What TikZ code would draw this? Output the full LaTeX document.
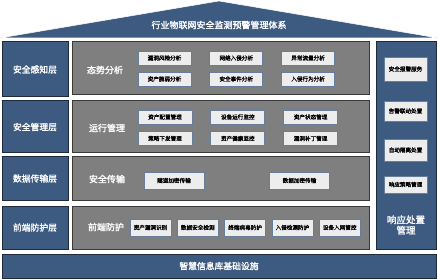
\documentclass[tikz,border=0pt]{standalone}
\usepackage{fontspec}
\setmainfont{Noto Sans CJK SC}
\newfontfamily\heavycjk[FakeBold=1.5]{Noto Sans CJK SC}
\usetikzlibrary{positioning}
\definecolor{layerblue}{HTML}{3D5A80}
\definecolor{layeredge}{HTML}{1E2B3C}
\definecolor{panelgray}{HTML}{7F7F7F}
\definecolor{paneledge}{HTML}{3A3A3A}
\definecolor{itemfill}{HTML}{EDEDED}
\definecolor{itemedge}{HTML}{667E9C}

\begin{document}
\begin{tikzpicture}[
    x=1pt, y=-1pt,
    % --- block styles ---
    layer/.style={
      draw=layeredge, fill=layerblue, line width=1pt,
      minimum width=66pt, text=white, align=center,
      font=\heavycjk\fontsize{8.8}{10}\selectfont, inner sep=1pt},
    panel/.style={
      draw=paneledge, fill=panelgray, line width=1pt,
      minimum width=297pt, inner sep=0pt},
    label/.style={
      text=white, font=\heavycjk\fontsize{9}{10}\selectfont, align=center},
    item/.style={
      draw=itemedge, fill=itemfill, line width=0.8pt,
      minimum height=14pt, inner sep=0.5pt,
      font=\heavycjk\fontsize{5.6}{6}\selectfont},
  ]
  \useasboundingbox (0,0) rectangle (438,280);

  % ── Roof ──
  \filldraw[fill=layerblue, draw=white, line width=0.5pt]
    (0,38) -- (219,1) -- (438,38) -- cycle;
  \node[label] (roof) at (219,25) {行业物联网安全监测预警管理体系};

  % ── Layer names (left) ──
  \node[layer, minimum height=55pt] (sense) at (35,69.5)  {安全感知层};
  \node[layer, minimum height=52pt] (mgmt)  at (35,127)   {安全管理层};
  \node[layer, minimum height=43pt] (trans) at (35,178.5) {数据传输层};
  \node[layer, minimum height=43pt] (front) at (35,227.5) {前端防护层};

  % ── Panels ──
  \node[panel, minimum height=53pt] (p1) at (220.5,68.5)  {};
  \node[panel, minimum height=52pt] (p2) at (220.5,127)   {};
  \node[panel, minimum height=43pt] (p3) at (220.5,178.5) {};
  \node[panel, minimum height=43pt] (p4) at (220.5,227.5) {};

  \node[label] (l1) at (105,70)  {态势分析};
  \node[label] (l2) at (107,128) {运行管理};
  \node[label] (l3) at (107,179) {安全传输};
  \node[label] (l4) at (106,227) {前端防护};

  % ── 态势分析 ──
  \node[item, minimum width=53pt] (a1) at (164.5,58) {漏洞风险分析};
  \node[item, minimum width=53pt, right=18pt of a1] (a2) {网络入侵分析};
  \node[item, minimum width=53pt, right=18pt of a2] (a3) {异常流量分析};
  \node[item, minimum width=53pt] (a4) at (164.5,79) {资产脆弱分析};
  \node[item, minimum width=53pt, right=18pt of a4] (a5) {安全事件分析};
  \node[item, minimum width=53pt, right=18pt of a5] (a6) {入侵行为分析};

  % ── 运行管理 ──
  \node[item, minimum width=54pt] (m1) at (165,117) {资产配置管理};
  \node[item, minimum width=54pt, right=18pt of m1] (m2) {设备运行监控};
  \node[item, minimum width=54pt, right=18pt of m2] (m3) {资产状态管理};
  \node[item, minimum width=54pt] (m4) at (165,138.5) {策略下发管理};
  \node[item, minimum width=54pt, right=18pt of m4] (m5) {资产健康监控};
  \node[item, minimum width=54pt, right=18pt of m5] (m6) {漏洞补丁管理};

  % ── 安全传输 ──
  \node[item, minimum width=60pt, minimum height=17pt] (t1) at (174,180.5) {隧道加密传输};
  \node[item, minimum width=60pt, minimum height=17pt] (t2) at (299.5,180.5) {数据加密传输};

  % ── 前端防护 ──
  \node[item, minimum width=41pt, minimum height=17pt] (f1) at (150.5,227.5) {资产漏洞识别};
  \node[item, minimum width=41pt, minimum height=17pt, right=5.5pt of f1] (f2) {数据安全检测};
  \node[item, minimum width=41pt, minimum height=17pt, right=5.5pt of f2] (f3) {终端病毒防护};
  \node[item, minimum width=41pt, minimum height=17pt, right=5.5pt of f3] (f4) {入侵检测防护};
  \node[item, minimum width=41pt, minimum height=17pt, right=5.5pt of f4] (f5) {设备入网管控};

  % ── Response column (right) ──
  \node[layer, minimum width=60pt, minimum height=207pt] (resp) at (406,145.5) {};
  \node[item, minimum width=43pt, minimum height=24pt] (r1) at (405.5,69)  {安全报警服务};
  \node[item, minimum width=43pt, minimum height=20pt] (r2) at (405.5,111) {告警联动处置};
  \node[item, minimum width=43pt, minimum height=22pt] (r3) at (405.5,150) {自动隔离处置};
  \node[item, minimum width=43pt, minimum height=17pt] (r4) at (405.5,184.5) {响应策略管理};
  \node[label, font=\heavycjk\fontsize{9.5}{10.5}\selectfont] (rl) at (406,225) {响应处置\\管理};

  % ── Base ──
  \node[layer, minimum width=434pt, minimum height=24pt] (base) at (219,266) {智慧信息库基础设施};

\end{tikzpicture}
\end{document}
